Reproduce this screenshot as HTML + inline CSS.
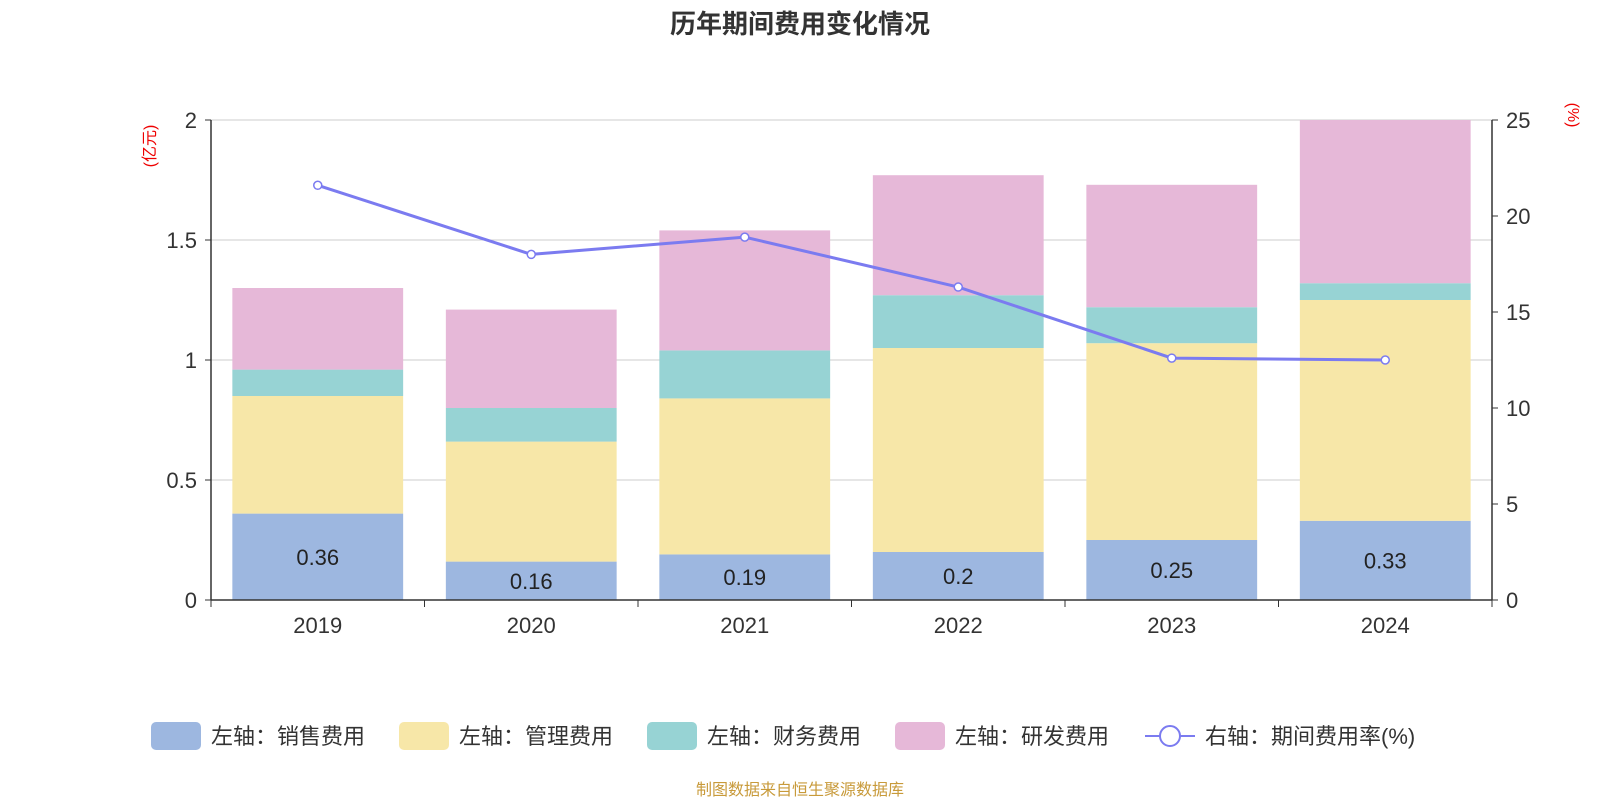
<!DOCTYPE html>
<html><head><meta charset="utf-8"><style>
body{margin:0;background:#fff;}
svg{display:block;font-family:"Liberation Sans","Noto Sans CJK SC",sans-serif;}
</style></head><body>
<svg id="chart" width="1600" height="800" viewBox="0 0 1600 800" xmlns="http://www.w3.org/2000/svg">
<text x="800" y="33" text-anchor="middle" font-size="26" font-weight="bold" fill="#333">历年期间费用变化情况</text>
<text transform="translate(155,146) rotate(-90)" text-anchor="middle" font-size="16" fill="#e00">(亿元)</text>
<text transform="translate(1568,115) rotate(90)" text-anchor="middle" font-size="16" fill="#e00">(%)</text>
<g id="grid"></g><g id="bars"></g><g id="axes"></g><g id="line"></g>
<g id="legend"></g>
<text x="800" y="795" text-anchor="middle" font-size="16" fill="#c89a3a">制图数据来自恒生聚源数据库</text>
</svg>
<script>
const categories=["2019","2020","2021","2022","2023","2024"];
const sales=[0.36,0.16,0.19,0.2,0.25,0.33];
const mgmt=[0.49,0.50,0.65,0.85,0.82,0.92];
const finance=[0.11,0.14,0.20,0.22,0.15,0.07];
const rd=[0.34,0.41,0.50,0.50,0.51,0.68];
const rate=[21.6,18.0,18.9,16.3,12.6,12.5];
const leftTicks=[0,0.5,1,1.5,2];
const rightTicks=[0,5,10,15,20,25];
const NS="http://www.w3.org/2000/svg";
const X0=211,X1=1492,Y0=600,Y1=120;
const band=(X1-X0)/categories.length;
const yL=v=>Y0-(v/2)*(Y0-Y1);
const yR=v=>Y0-(v/25)*(Y0-Y1);
const xC=i=>X0+band*(i+0.5);
function mk(tag,attrs,parent,text){const e=document.createElementNS(NS,tag);for(const k in attrs)e.setAttribute(k,attrs[k]);if(text!==undefined)e.textContent=text;document.getElementById(parent).appendChild(e);return e;}
leftTicks.forEach(t=>{
 const g=mk('line',{x1:X0,x2:X1,y1:yL(t),y2:yL(t),stroke:'#ccc','stroke-width':1},'grid');
 
 const l=mk('text',{x:X0-14,y:yL(t)+8,'text-anchor':'end','font-size':22,fill:'#333'},'axes',String(t));
 
 const tk=mk('line',{x1:X0-6,x2:X0,y1:yL(t),y2:yL(t),stroke:'#333'},'axes');
 
});
rightTicks.forEach(t=>{
 const l=mk('text',{x:X1+14,y:yR(t)+8,'font-size':22,fill:'#333'},'axes',String(t));
 
 const tk=mk('line',{x1:X1,x2:X1+6,y1:yR(t),y2:yR(t),stroke:'#333'},'axes');
 
});
[[X0,Y1,X0,Y0],[X1,Y1,X1,Y0],[X0,Y0,X1,Y0]].forEach(a=>{
 const l=mk('line',{x1:a[0],y1:a[1],x2:a[2],y2:a[3],stroke:'#333','stroke-width':1.5},'axes');
 
});
for(let i=0;i<=categories.length;i++){const tk=mk('line',{x1:X0+band*i,x2:X0+band*i,y1:Y0,y2:Y0+7,stroke:'#333'},'axes');}
const series=[[sales,'#9db7e0','sales'],[mgmt,'#f7e7a8','mgmt'],[finance,'#97d3d4','finance'],[rd,'#e6b8d8','rd']];
const bw=band*0.8;
categories.forEach((c,i)=>{
 const xl=mk('text',{x:xC(i),y:Y0+33,'text-anchor':'middle','font-size':22,fill:'#333'},'axes',c);
 
 let base=0;
 series.forEach(s=>{
  const v=s[0][i];
  const r=mk('rect',{x:xC(i)-bw/2,y:yL(base+v),width:bw,height:yL(base)-yL(base+v),fill:s[1]},'bars');
  
  base+=v;
 });
 const lb=mk('text',{x:xC(i),y:(yL(0)+yL(sales[i]))/2+8,'text-anchor':'middle','font-size':22,fill:'#222'},'bars',String(sales[i]));
 
});
const pl=mk('polyline',{points:rate.map((v,i)=>xC(i)+','+yR(v)).join(' '),fill:'none',stroke:'#7b7bf0','stroke-width':3},'line');

rate.forEach((v,i)=>{const p=mk('circle',{cx:xC(i),cy:yR(v),r:4,fill:'#fff',stroke:'#7b7bf0','stroke-width':1.5},'line');});
const leg=[['#9db7e0','左轴：销售费用',151],['#f7e7a8','左轴：管理费用',399],['#97d3d4','左轴：财务费用',647],['#e6b8d8','左轴：研发费用',895]];
leg.forEach(l=>{
 const r=mk('rect',{x:l[2],y:722,width:50,height:28,rx:5,fill:l[0]},'legend');
 
 const t=mk('text',{x:l[2]+60,y:744,'font-size':22,fill:'#333'},'legend',l[1]);
 
});
const ll=mk('line',{x1:1145,x2:1195,y1:736,y2:736,stroke:'#7b7bf0','stroke-width':2},'legend');
const lc=mk('circle',{cx:1170,cy:736,r:10,fill:'#fff',stroke:'#7b7bf0','stroke-width':2},'legend');
const lt=mk('text',{x:1205,y:744,'font-size':22,fill:'#333'},'legend','右轴：期间费用率(%)');
</script>
</body></html>
